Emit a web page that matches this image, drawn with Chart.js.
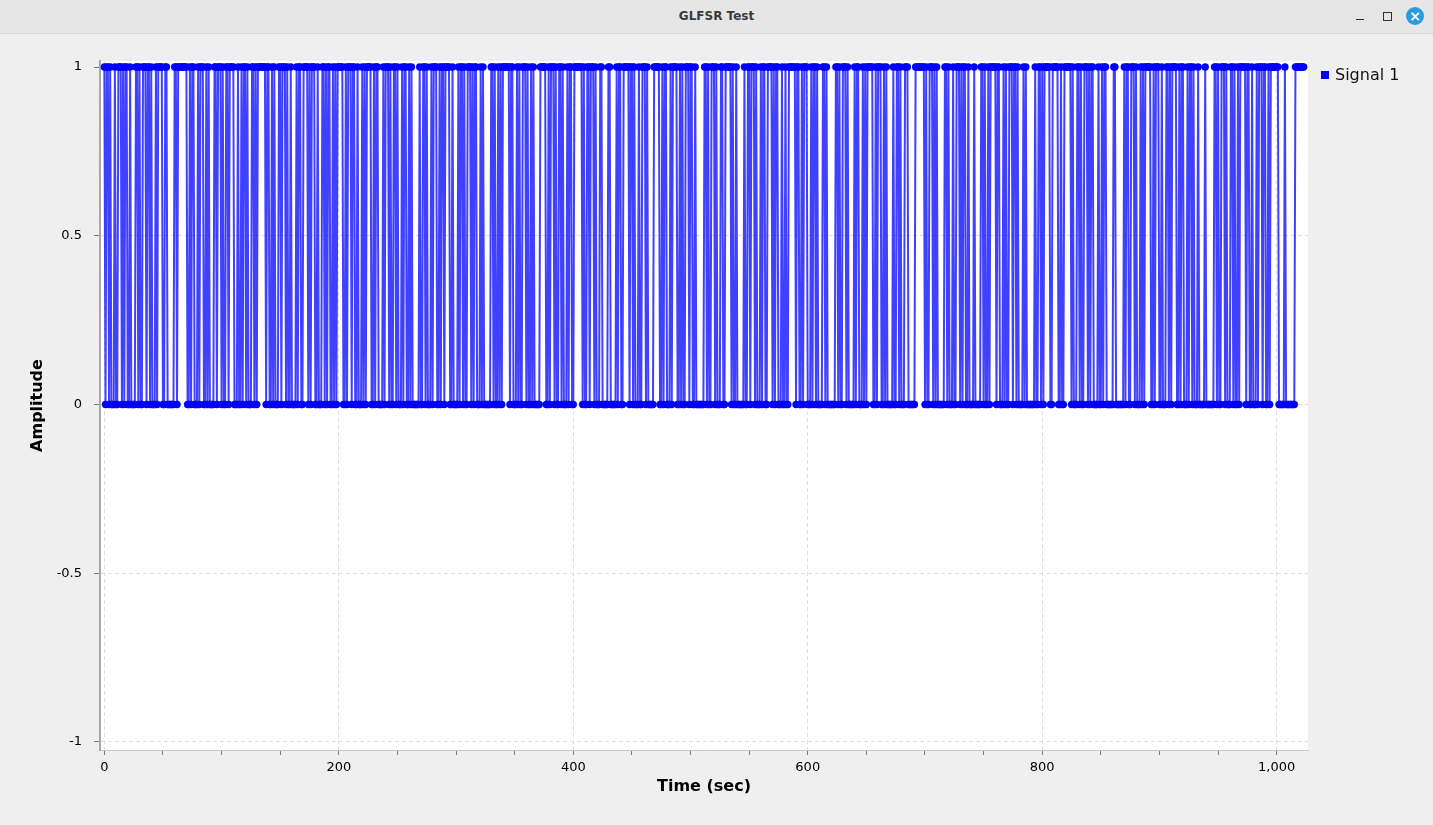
<!DOCTYPE html>
<html>
<head>
<meta charset="utf-8">
<title>GLFSR Test</title>
<script src="https://cdn.jsdelivr.net/npm/chart.js@4.4.0/dist/chart.umd.min.js"></script>
<style>
html, body { margin: 0; padding: 0; width: 1433px; height: 825px; overflow: hidden; background: #efefef; font-family: "DejaVu Sans", sans-serif; }
#titlebar { position: absolute; left: 0; top: 0; width: 1433px; height: 33px; background: #e6e6e6; border-bottom: 1px solid #d6d6d6; }
#titlebar .t { position: absolute; left: 0; width: 100%; top: 9px; text-align: center; font-size: 12px; font-weight: bold; color: #3a3a3a; }
#titlebar .min { position: absolute; left: 1356px; top: 19px; width: 8px; height: 1px; background: #333; }
#titlebar .max { position: absolute; left: 1383px; top: 12px; width: 7px; height: 7px; border: 1px solid #333; }
#titlebar .close { position: absolute; left: 1406px; top: 7px; width: 18px; height: 18px; border-radius: 50%; background: #2a9be0; color: #fff; font-size: 14px; line-height: 18px; text-align: center; font-weight: bold; }
#wrap { position: absolute; left: 0; top: 33px; width: 1433px; height: 792px; }
#legend { position: absolute; left: 1321px; top: 65px; font-size: 16px; color: #111; white-space: nowrap; }
#legend span.box { display: inline-block; width: 8px; height: 8px; background: #0000ff; margin-right: 6px; vertical-align: 1px; }
</style>
</head>
<body>
<div id="titlebar"><div class="t">GLFSR Test</div><div class="min"></div><div class="max"></div><div class="close">×</div></div>
<div id="wrap"><canvas id="myChart" width="1433" height="792"></canvas></div>
<div id="legend"></div>
<script>
// run lengths of the 0/1 signal, alternating 1,0,1,0... starting with a 1
const runsA = [1,1, 2,1,1,3,1,2,3,1,1,1,2,2,1,4,2,1,1,2,3,1,2,1,1,3,1,1,4,2,2, 6,2,1,8,
  2,1,1,2,3,1,1,3,2,1,1,1,4,2,1,3,1,1,2,2,1,4,3,1,2,1,1,2,1,1,3,2,1,1,1];
const runsB = [7, 1,2,2,1,1,1,3,2,1,3,1,1,2,1,4,1,1,2,2,4,1,1,1,3,2,1,3,2,1,1,1,2,2,1,1,1,1,
  5, 2,1,1,3,1,2,2,1,3,1,1,1,1,4,2,1,1,2,4,1,1,3,1,1,2,2,1,1,3,1,1,2,2,1,1,1];
const runsC = [6, 1,2,2,1,1,3,1,1,3,2,1,1,2,1,4,2,1,4,1,1,2,1,1,2,3,1,1,1,2,3,1,1,1,
  6, 2,1,1,2,1,1,1,1, 6, 1,2,3,1,1,1,2,3,1,1,2,1,1,1, 5,5, 2,1,1,3,1,1,2,2,1,1,3,1,1,2,2];
const runsD = [7, 1,1,2,2,1,3,1,1,3,2, 5,2,5, 1,1,2,2, 5, 1,2,1,1,3,1,2,3,1,1, 5,5,
  2,1,1,2,3,1,1,4,2,1,1,1,2,3,1,2,2,1, 7, 2,1,1,2,3,1,1,3,2,2, 5, 1,1,2,1, 6];
const runsE = [1,2,2,1,3,1,1,3,1,1,2,2,4,1,1,1,2,3,1,2,1,2, 6, 1,2,2,1,1,3,3,1,1,2,1,1,4,2,1,1,
  7, 2,1,1,2,3,1,1, 5, 1,1,2,3,1,1,1,1, 5, 2,1,1,3,2,1,1,1, 5, 1,2,2,1,1,3,3, 6, 8];
const runsF = [1,1,2,3,1,1,1,1, 6, 2,1,1,3,1,2,3,1,1,1,2,2,1,4,1, 5, 2,1,1,2,1,1, 5,
  1,2,3,1,1,1,2,3,1,2,1,1,4,1,1,1, 7, 1,2,2,1,1,1, 5,2,5, 2,1,2, 6];
const runsG = [1,1,3,2,1,1,2,3,1,1,1,2,4,1,2,1,1,2, 6,2,7, 1,1,2,2,3,1,1,3,1,1,1,1, 5,
  2,1,1,3,2,1,3,2,1,1,1,4,2,1,1,2,3,1,1,2,1,1,3, 1,5,1,7, 2,1,1,2,3,1,1,3,2,1,1,2,1,1, 5,
  1,2,2,1,3,1,1,3,1,2,2,1,1, 7,5,1,8,8];

const seriesName = "Signal 1";
const xMajor = [0, 200, 400, 600, 800, 1000];
const xMajorLabels = ["0", "200", "400", "600", "800", "1,000"];
const xMinor = [50, 100, 150, 250, 300, 350, 450, 500, 550, 650, 700, 750, 850, 900, 950];
const yTicks = [-1, -0.5, 0, 0.5, 1];
const yLabels = ["-1", "-0.5", "0", "0.5", "1"];

const runs = [].concat(runsA, runsB, runsC, runsD, runsE, runsF, runsG);
const samples = [];
let level = 1;
runs.forEach(n => {
  for (let k = 0; k < n; k++) samples.push(level);
  level = 1 - level;
});
const points = samples.map((v, i) => ({ x: i, y: v }));

const whiteArea = {
  id: 'whiteArea',
  beforeDraw(c) {
    const a = c.chartArea;
    c.ctx.save();
    c.ctx.fillStyle = '#ffffff';
    c.ctx.fillRect(a.left, a.top, a.right - a.left, a.bottom - a.top);
    c.ctx.restore();
  }
};

const ctx = document.getElementById('myChart').getContext('2d');
Chart.defaults.font.family = '"DejaVu Sans", sans-serif';
Chart.defaults.color = '#000';

const chart = new Chart(ctx, {
  type: 'line',
  data: {
    datasets: [{
      label: seriesName,
      data: points,
      borderColor: 'rgba(0,0,255,0.75)',
      backgroundColor: '#0000ff',
      borderWidth: 2,
      pointRadius: 3.7,
      pointBorderWidth: 0,
      pointBackgroundColor: '#0000ff',
      fill: false,
      tension: 0
    }]
  },
  options: {
    responsive: false,
    animation: false,
    events: [],
    layout: { padding: { left: 24, right: 125, top: 28, bottom: 25 } },
    plugins: { legend: { display: false }, tooltip: { enabled: false } },
    scales: {
      x: {
        type: 'linear',
        min: -3.7,
        max: 1026.7,
        afterFit: s => { s.height = 50; },
        afterBuildTicks: s => { s.ticks = xMajor.concat(xMinor).sort((a, b) => a - b).map(v => ({ value: v })); },
        ticks: {
          autoSkip: false,
          maxRotation: 0,
          padding: 5,
          font: { size: 13 },
          callback: v => { const i = xMajor.indexOf(v); return i >= 0 ? xMajorLabels[i] : ''; }
        },
        grid: {
          color: c => (c.tick && xMajor.includes(c.tick.value)) ? '#dedede' : 'rgba(0,0,0,0)',
          tickColor: '#7a7a7a',
          tickLength: 5,
          lineWidth: 1
        },
        border: { display: true, color: '#c8c8c8', width: 1, dash: [4, 3] },
        title: { display: true, text: 'Time (sec)', font: { size: 16, weight: 'bold' }, color: '#000' }
      },
      y: {
        min: -1.024,
        max: 1.018,
        afterFit: s => { s.width = 76; },
        afterBuildTicks: s => { s.ticks = yTicks.map(v => ({ value: v })); },
        ticks: {
          padding: 12,
          font: { size: 13 },
          callback: v => { const i = yTicks.indexOf(v); return i >= 0 ? yLabels[i] : ''; }
        },
        grid: { color: '#dedede', tickColor: '#7a7a7a', tickLength: 6, lineWidth: 1 },
        border: { display: true, color: '#a8a8a8', width: 2, dash: [4, 3] },
        title: { display: true, text: 'Amplitude', font: { size: 16, weight: 'bold' }, color: '#000' }
      }
    }
  },
  plugins: [whiteArea]
});

document.getElementById('legend').innerHTML =
  '<span class="box"></span>' + chart.data.datasets[0].label;
</script>
</body>
</html>
